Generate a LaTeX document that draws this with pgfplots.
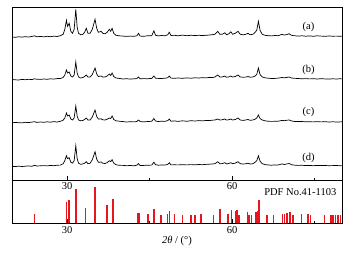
\documentclass[border=0pt]{standalone}
\usepackage{fontspec}
\setmainfont{Liberation Serif}
\usepackage{pgfplots}
\usepackage{pgfplotstable}
\pgfplotsset{compat=1.18}

\pgfplotstableread{
x a b c d
20.0 0.3 0.5 0.2 0.4
20.6 0.0 0.2 0.6 0.1
21.2 0.5 0.0 0.3 0.6
21.8 0.2 0.6 0.1 0.2
22.4 0.6 0.3 0.7 0.5
23.0 0.3 0.7 0.4 0.8
23.6 0.8 0.4 0.9 0.4
24.1 1.5 1.2 1.3 1.4
24.5 0.5 0.8 0.6 0.7
25.2 0.9 0.6 1.0 0.9
25.8 0.4 1.0 0.7 1.1
26.4 1.0 0.7 1.2 0.8
27.0 0.6 1.2 0.8 1.3
27.6 1.2 0.9 1.4 1.0
28.2 0.8 1.4 1.0 1.5
28.8 1.6 1.5 1.7 1.6
29.3 3 2.5 2.8 3
29.6 8 5 5 6
29.9 17 10 10 11
30.1 11 7 7 8
30.4 14 8 8 9
30.7 6 4 4 4.5
31.0 4 3 3 3.5
31.3 8 5 5 6
31.6 28 18 17 21
31.85 10 7 7 8
32.1 4 3 3 3.5
32.5 2.5 2 2.2 2.4
32.9 3 2.5 2.6 2.8
33.2 5 3.5 3.5 3.5
33.5 9 5 5 5
33.8 4 3 3 3
34.2 4 3 3 3.5
34.6 8 5.5 6 7
35.1 18 12 13 15
35.4 9 6 6.5 7.5
35.7 5 3.5 4 4.5
36.0 5.5 3.8 4 4.5
36.2 6 4 4.2 4.8
36.5 4 3 3.2 3.5
36.9 3.5 3 3 3.2
37.3 5 4 3.8 4
37.7 8 6 5 6
37.95 6 4.5 4.5 5
38.2 9 7 7 7
38.5 4 3.5 3.5 3.5
38.9 2 2 2.2 2
39.5 1.5 1.6 1.8 1.4
40.2 1.2 1.0 1.4 1.3
40.8 0.9 1.3 1.0 1.0
41.5 1.2 0.9 1.3 1.2
42.2 1.0 1.2 1.1 0.9
42.7 1.5 1.4 1.5 1.5
43.0 4 3 3 3
43.3 1.2 1.2 1.4 1.2
44.0 1.0 1.4 1.1 1.3
44.7 1.6 1.3 1.5 1.5
45.4 1.5 1.6 1.7 1.6
45.8 6.5 4 4.5 4.5
46.1 2 1.8 2 2
46.6 1.4 1.6 1.5 1.5
47.2 1.8 1.5 1.8 1.7
47.8 1.5 1.8 1.6 1.6
48.3 2.5 2.2 2.4 2.3
48.6 5 4 4 4
48.9 1.8 1.9 1.8 1.8
49.5 2 1.7 2.1 1.9
50.2 1.5 2.0 1.6 1.8
51.0 2.2 1.7 2.2 2.0
51.8 1.6 2.1 1.7 1.8
52.5 2 1.8 2.3 2.1
53.3 1.8 2.2 2.0 1.9
54.0 2 2.0 2.4 2.2
54.6 1.7 2.3 2.1 2.0
55.2 2 2.1 2.5 2.3
55.8 2.2 2.5 2.4 2.5
56.4 2.6 2.4 2.8 2.7
56.9 3 3 3 3
57.4 6 5 4 5
57.8 3 3 3 3
58.2 3 3 3.2 3.1
58.7 4.5 4 4 4
59.0 2.5 2.8 3 2.8
59.4 3.5 3 3.2 3.2
59.8 5.5 4 4 4
60.1 3 3 3 3
60.6 4 3.5 3.5 3.6
61.1 6 5 5 5
61.5 3 3 3 3
62.0 2.5 2.8 2.6 2.7
62.5 3 2.9 3 2.9
62.9 4 3.5 3.5 3.5
63.3 2.6 2.8 2.7 2.7
63.8 3 3 3 3
64.2 5 4 3.8 4.5
64.5 7 5.5 5 6
64.8 16 12 8 11
65.1 7 5.5 4.5 5.5
65.5 3 3 3 3
66.0 2 2.2 2.2 2.1
66.6 1.6 1.8 1.7 1.7
67.2 1.4 1.5 1.6 1.5
67.8 1.8 1.6 1.7 1.8
68.4 1.6 1.9 1.8 1.7
69.1 3 2.5 2.6 2.8
69.5 2.2 2.2 2.3 2.2
70.0 2.8 2.6 2.8 2.8
70.4 3.5 3 3 3.2
70.8 2 2 2.1 2
71.3 1.6 1.7 1.6 1.6
72.0 1.2 1.5 1.4 1.3
72.7 1.5 1.2 1.5 1.4
73.4 1.1 1.4 1.2 1.2
74.1 1.4 1.1 1.3 1.3
74.8 1.0 1.3 1.1 1.0
75.5 1.5 1.0 1.4 1.3
76.2 1.2 1.3 1.1 1.1
76.9 1.0 1.1 1.3 1.2
77.6 1.3 0.9 1.0 1.0
78.3 1.1 1.2 1.2 1.1
79.0 1.2 1.0 1.0 1.2
79.6 1.0 1.2 1.1 1.0
80.0 1.2 1.1 1.2 1.1
}\xrd

\pgfplotstableread{
x h
24.1 8.7
29.9 20.7
30.4 23.3
31.65 34
33.4 14.7
35.1 36.3
37.3 17.7
38.4 24.3
42.8 10
43.05 10
44.75 8.7
45.85 14
47.1 7.7
48.3 8.7
48.6 12.3
49.55 9.3
51.0 8
52.5 8
53.3 8
54.4 9.3
56.6 8
57.8 14
59.3 9.3
59.9 13.3
60.7 12.3
60.95 13.3
61.3 8
62.8 10.7
63.1 8
63.5 8
64.4 10.7
64.65 12.3
64.9 22.7
66.4 8
67.5 8
69.2 9
69.55 9
70.0 10
70.5 11.3
71.1 8
72.6 9
73.8 9
74.3 8
76.8 8
78.0 8
78.4 8
78.8 8
79.25 8
79.7 8
}\pdf

\begin{document}
\begin{tikzpicture}[font=\fontsize{10.5}{12}\selectfont]
\useasboundingbox (0,0) rectangle (355pt,252pt);
\pgfplotsset{
  panel/.style={
    scale only axis, width=330pt,
    xmin=20, xmax=80,
    xtick={30,60}, minor xtick={45,75},
    tick align=inside,
    major tick length=4pt, minor tick length=2pt,
    ytick=\empty,
    xtick pos=bottom,
    axis line style={line width=0.7pt},
    every tick/.style={black, line width=0.6pt},
    /pgf/number format/assume math mode=true,
    tick label style={font=\fontsize{10.5}{12}\selectfont},
    clip=true,
  }
}
% upper panel
\begin{axis}[panel, at={(12pt,72pt)}, anchor=south west,
  height=173pt, ymin=0, ymax=173,
  xticklabel style={yshift=1pt}]
\addplot[black, line width=0.7pt] table[x=x, y expr=\thisrow{a}+142.7] {\xrd};
\addplot[black, line width=0.7pt] table[x=x, y expr=\thisrow{b}+100] {\xrd};
\addplot[black, line width=0.7pt] table[x=x, y expr=\thisrow{c}+57] {\xrd};
\addplot[black, line width=0.7pt] table[x=x, y expr=\thisrow{d}+13.3] {\xrd};
\node at (axis cs:73.9,153.3) {(a)};
\node at (axis cs:73.9,110) {(b)};
\node at (axis cs:73.9,68) {(c)};
\node at (axis cs:73.9,22) {(d)};
\end{axis}
% lower panel
\begin{axis}[panel, at={(12pt,29pt)}, anchor=south west,
  height=43pt, ymin=0, ymax=43,
  xlabel={\textit{2θ} / (°)},
  xlabel style={yshift=4pt}]
\addplot[ycomb, color={rgb,255:red,232;green,20;blue,30}, line width=1.5pt] table[x=x, y=h] {\pdf};
\node[anchor=east] at (axis cs:79.6,31.3) {PDF No.41-1103};
\end{axis}
\end{tikzpicture}
\end{document}
